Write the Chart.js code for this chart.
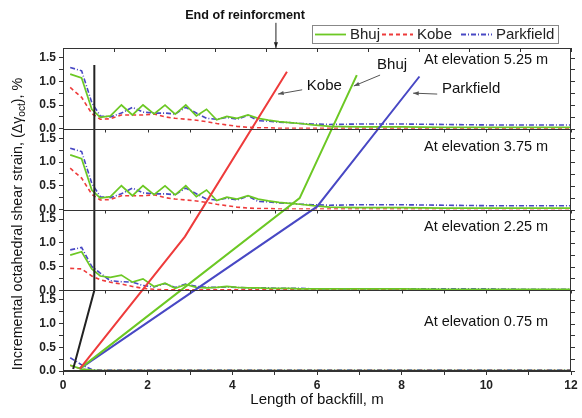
<!DOCTYPE html>
<html lang="en">
<head>
<meta charset="UTF-8">
<title>Incremental octahedral shear strain along the backfill</title>
<script src="https://cdn.jsdelivr.net/npm/chart.js@4.4.0/dist/chart.umd.min.js"></script>
<style>
  html, body { margin: 0; padding: 0; background: #fff; }
</style>
</head>
<body>
<canvas id="graphique" width="582" height="418"></canvas>
<script>
// distances along the backfill (m) where the strain was sampled
const distances = [0.17, 0.44, 0.68, 0.88, 1.12, 1.38, 1.64, 1.89, 2.15, 2.41, 2.65, 2.9, 3.15, 3.39, 3.63, 3.87, 4.11, 4.37, 4.61, 4.85, 5.1, 5.35, 5.6, 5.9, 6.3, 7, 8, 9, 10, 11, 12];

// elevation 5.25 m
const bhuj525 = [1.15, 1.07, 0.41, 0.24, 0.27, 0.50, 0.29, 0.50, 0.31, 0.50, 0.31, 0.50, 0.27, 0.41, 0.19, 0.26, 0.22, 0.29, 0.22, 0.18, 0.15, 0.13, 0.11, 0.08, 0.05, 0.04, 0.04, 0.03, 0.03, 0.03, 0.03];
const kobe525 = [0.87, 0.66, 0.32, 0.20, 0.21, 0.29, 0.29, 0.29, 0.31, 0.25, 0.22, 0.20, 0.18, 0.15, 0.11, 0.08, 0.05, 0.03, 0.02, 0.02, 0.01, 0.01, 0.01, 0.01, 0.01, 0.01, 0.01, 0.01, 0.01, 0.01, 0.01];
const park525 = [1.29, 1.22, 0.55, 0.27, 0.25, 0.33, 0.45, 0.35, 0.33, 0.33, 0.31, 0.45, 0.33, 0.22, 0.20, 0.24, 0.20, 0.28, 0.17, 0.16, 0.14, 0.13, 0.11, 0.10, 0.09, 0.10, 0.10, 0.09, 0.08, 0.08, 0.08];

// elevation 3.75 m
const bhuj375 = [1.15, 1.07, 0.41, 0.24, 0.27, 0.50, 0.29, 0.50, 0.31, 0.50, 0.31, 0.50, 0.27, 0.41, 0.19, 0.26, 0.22, 0.29, 0.22, 0.18, 0.15, 0.13, 0.11, 0.08, 0.05, 0.04, 0.04, 0.03, 0.03, 0.03, 0.03];
const kobe375 = [0.87, 0.66, 0.32, 0.20, 0.21, 0.29, 0.29, 0.29, 0.31, 0.25, 0.22, 0.20, 0.18, 0.15, 0.11, 0.08, 0.05, 0.03, 0.02, 0.02, 0.01, 0.01, 0.01, 0.01, 0.01, 0.01, 0.01, 0.01, 0.01, 0.01, 0.01];
const park375 = [1.29, 1.22, 0.55, 0.27, 0.25, 0.33, 0.45, 0.35, 0.33, 0.33, 0.31, 0.45, 0.33, 0.22, 0.20, 0.24, 0.20, 0.28, 0.17, 0.16, 0.14, 0.13, 0.11, 0.10, 0.09, 0.10, 0.10, 0.09, 0.08, 0.08, 0.08];

// elevation 2.25 m
const bhuj225 = [0.74, 0.81, 0.45, 0.30, 0.27, 0.32, 0.17, 0.24, 0.08, 0.15, 0.04, 0.12, 0.06, 0.05, 0.06, 0.08, 0.06, 0.05, 0.05, 0.04, 0.04, 0.04, 0.03, 0.03, 0.03, 0.03, 0.03, 0.02, 0.02, 0.02, 0.02];
const kobe225 = [0.46, 0.45, 0.30, 0.22, 0.17, 0.13, 0.08, 0.04, 0.02, 0.01, 0.01, 0.01, 0.01, 0.01, 0.01, 0.01, 0.01, 0.01, 0.01, 0.01, 0.01, 0.01, 0.01, 0.01, 0.01, 0.01, 0.01, 0.01, 0.01, 0.01, 0.01];
const park225 = [0.85, 0.90, 0.50, 0.36, 0.20, 0.18, 0.17, 0.10, 0.07, 0.14, 0.06, 0.13, 0.08, 0.06, 0.06, 0.07, 0.06, 0.05, 0.05, 0.05, 0.04, 0.04, 0.04, 0.03, 0.03, 0.03, 0.03, 0.03, 0.03, 0.02, 0.02];

// elevation 0.75 m
const bhuj075 = [0.12, 0.04, 0.02, 0.01, 0.01, 0.01, 0.01, 0.01, 0.01, 0.01, 0.01, 0.01, 0.01, 0.01, 0.01, 0.01, 0.01, 0.01, 0.01, 0.01, 0.01, 0.01, 0.01, 0.01, 0.01, 0.01, 0.01, 0.01, 0.01, 0.01, 0.01];
const kobe075 = [0.12, 0.04, 0.01, 0.01, 0.01, 0.01, 0.01, 0.01, 0.01, 0.01, 0.01, 0.01, 0.01, 0.01, 0.01, 0.01, 0.01, 0.01, 0.01, 0.01, 0.01, 0.01, 0.01, 0.01, 0.01, 0.01, 0.01, 0.01, 0.01, 0.01, 0.01];
const park075 = [0.28, 0.13, 0.03, 0.02, 0.02, 0.02, 0.02, 0.02, 0.02, 0.02, 0.02, 0.02, 0.02, 0.02, 0.02, 0.02, 0.02, 0.02, 0.02, 0.02, 0.02, 0.02, 0.02, 0.02, 0.02, 0.02, 0.02, 0.02, 0.02, 0.02, 0.02];

// trend lines drawn across the four panels (y in stacked-panel units, 1.7 per panel)
const kobeTrendX = [0.4, 2.88, 5.29];
const kobeTrendY = [0.05, 2.83, 6.30];
const bhujTrendX = [0.4, 5.59, 6.94];
const bhujTrendY = [0.05, 3.64, 6.23];
const parkTrendX = [0.4, 6.0, 8.42];
const parkTrendY = [0.05, 3.46, 6.20];
const reinfX = [0.24, 0.74, 0.74];
const reinfY = [0.04, 1.70, 6.44];

// ticks
const xTickValues = [0, 1, 2, 3, 4, 5, 6, 7, 8, 9, 10, 11, 12];
const yTickValues = [0, 0.25, 0.5, 0.75, 1.0, 1.25, 1.5];
const topTickValues = [0, 1.2, 2.4, 3.6, 4.8, 6.0, 7.2, 8.4, 9.6, 10.8, 12];

const panels = [
    { id: 'y525', label: 'At elevation 5.25 m', labelY: 1.45, bhuj: bhuj525, kobe: kobe525, park: park525 },
    { id: 'y375', label: 'At elevation 3.75 m', labelY: 1.31, bhuj: bhuj375, kobe: kobe375, park: park375 },
    { id: 'y225', label: 'At elevation 2.25 m', labelY: 1.33, bhuj: bhuj225, kobe: kobe225, park: park225 },
    { id: 'y075', label: 'At elevation 0.75 m', labelY: 1.04, bhuj: bhuj075, kobe: kobe075, park: park075 }
];

const GREEN = '#6cc824';
const RED = '#ee3b3b';
const BLUE = '#4848c4';
const PANEL_MAX = 1.7;

function pts(xs, ys) {
    return xs.map((x, i) => ({ x: x, y: ys[i] }));
}

const datasets = [];
panels.forEach(p => {
    datasets.push({ label: 'Bhuj', data: pts(distances, p.bhuj), yAxisID: p.id, borderColor: GREEN, borderWidth: 1.7, order: 1 });
    datasets.push({ label: 'Kobe', data: pts(distances, p.kobe), yAxisID: p.id, borderColor: RED, borderWidth: 1.6, borderDash: [4, 3], order: 1 });
    datasets.push({ label: 'Parkfield', data: pts(distances, p.park), yAxisID: p.id, borderColor: BLUE, borderWidth: 1.6, borderDash: [5, 2, 1, 2], order: 1 });
});
datasets.push({ label: 'Kobe trend', data: pts(kobeTrendX, kobeTrendY), yAxisID: 'yAll', borderColor: RED, borderWidth: 2, order: 0 });
datasets.push({ label: 'Bhuj trend', data: pts(bhujTrendX, bhujTrendY), yAxisID: 'yAll', borderColor: GREEN, borderWidth: 2, order: 0 });
datasets.push({ label: 'Parkfield trend', data: pts(parkTrendX, parkTrendY), yAxisID: 'yAll', borderColor: BLUE, borderWidth: 2, order: 0 });
datasets.push({ label: 'Reinforcement', data: pts(reinfX, reinfY), yAxisID: 'yAll', borderColor: '#222', borderWidth: 2, order: 0 });

const FONT = '"Liberation Sans", Arial, sans-serif';

function panelAxis() {
    return {
        type: 'linear', position: 'left', stack: 'panels', stackWeight: 1,
        min: 0, max: PANEL_MAX,
        afterBuildTicks: s => { s.ticks = yTickValues.map(v => ({ value: v })); },
        afterFit: s => { s.width = 63; },
        ticks: {
            autoSkip: false, padding: 3, color: '#222',
            font: { family: FONT, size: 12, weight: 'bold' },
            callback: v => (Math.abs(v * 2 - Math.round(v * 2)) < 1e-6 ? v.toFixed(1) : '')
        },
        grid: { drawOnChartArea: false, tickLength: 4, color: '#333' },
        border: { color: '#333', width: 1 }
    };
}

const scales = {
    x: {
        type: 'linear', position: 'bottom', min: 0, max: 12,
        afterBuildTicks: s => { s.ticks = xTickValues.map(v => ({ value: v })); },
        afterFit: s => { s.height = 47; },
        ticks: {
            autoSkip: false, maxRotation: 0, padding: 3, color: '#222',
            font: { family: FONT, size: 12, weight: 'bold' },
            callback: v => (v % 2 === 0 ? String(v) : '')
        },
        grid: { drawOnChartArea: false, tickLength: 4, color: '#333' },
        border: { color: '#333', width: 1 }
    },
    yAll: { type: 'linear', display: false, min: 0, max: PANEL_MAX * 4 }
};
// bottom panel first: later stacked axes are placed higher up
[...panels].reverse().forEach(p => { scales[p.id] = panelAxis(); });

function arrow(ctx, x1, y1, x2, y2) {
    ctx.beginPath();
    ctx.moveTo(x1, y1);
    ctx.lineTo(x2, y2);
    ctx.stroke();
    const a = Math.atan2(y2 - y1, x2 - x1);
    ctx.beginPath();
    ctx.moveTo(x2, y2);
    ctx.lineTo(x2 - 6 * Math.cos(a - 0.35), y2 - 6 * Math.sin(a - 0.35));
    ctx.lineTo(x2 - 6 * Math.cos(a + 0.35), y2 - 6 * Math.sin(a + 0.35));
    ctx.closePath();
    ctx.fill();
}

const decorations = {
    id: 'decorations',
    afterDatasetsDraw(chart) {
        const ctx = chart.ctx;
        const area = chart.chartArea;
        const xs = chart.scales.x;
        const g = chart.scales.yAll;
        const X = v => xs.getPixelForValue(v);
        const G = v => g.getPixelForValue(v);
        ctx.save();

        // frame, panel separators, extra ticks
        ctx.strokeStyle = '#333';
        ctx.lineWidth = 1;
        ctx.strokeRect(area.left + 0.5, area.top + 0.5, area.width - 1, area.height - 1);
        panels.forEach((p, i) => {
            const s = chart.scales[p.id];
            ctx.beginPath();
            yTickValues.forEach(v => {
                const y = Math.round(s.getPixelForValue(v)) + 0.5;
                ctx.moveTo(area.right, y);
                ctx.lineTo(area.right + 4, y);
            });
            if (i < panels.length - 1) {
                const yb = Math.round(s.bottom) + 0.5;
                ctx.moveTo(area.left, yb);
                ctx.lineTo(area.right, yb);
                xTickValues.forEach(v => {
                    ctx.moveTo(Math.round(X(v)) + 0.5, yb);
                    ctx.lineTo(Math.round(X(v)) + 0.5, yb + 3);
                });
            }
            ctx.stroke();
        });
        ctx.beginPath();
        topTickValues.forEach(v => {
            ctx.moveTo(Math.round(X(v)) + 0.5, area.top);
            ctx.lineTo(Math.round(X(v)) + 0.5, area.top + 4);
        });
        ctx.stroke();

        // elevation labels
        ctx.fillStyle = '#111';
        ctx.font = '14.5px ' + FONT;
        ctx.textAlign = 'right';
        ctx.textBaseline = 'middle';
        panels.forEach(p => {
            ctx.fillText(p.label, X(11.46), chart.scales[p.id].getPixelForValue(p.labelY));
        });

        // trend labels with arrows
        ctx.font = '15px ' + FONT;
        ctx.textAlign = 'left';
        ctx.fillText('Kobe', X(5.76), G(6.0));
        ctx.fillText('Bhuj', X(7.42), G(6.44));
        ctx.fillText('Parkfield', X(8.95), G(5.94));
        ctx.strokeStyle = '#555';
        ctx.fillStyle = '#555';
        ctx.lineWidth = 1;
        arrow(ctx, X(5.65), G(5.92), X(5.08), G(5.83));
        arrow(ctx, X(7.49), G(6.23), X(6.87), G(6.0));
        arrow(ctx, X(8.84), G(5.83), X(8.27), G(5.85));

        // end of reinforcement
        ctx.fillStyle = '#111';
        ctx.font = 'bold 12.6px ' + FONT;
        ctx.textAlign = 'center';
        ctx.fillText('End of reinforcment', X(4.3), G(7.49));
        ctx.strokeStyle = '#222';
        ctx.fillStyle = '#222';
        arrow(ctx, X(5.03), G(7.33), X(5.03), G(6.8));

        // legend
        const lx = 312, ly = 25, lw = 246, lh = 18;
        ctx.fillStyle = '#fff';
        ctx.fillRect(lx, ly, lw, lh);
        ctx.strokeStyle = '#888';
        ctx.strokeRect(lx + 0.5, ly + 0.5, lw, lh);
        const items = [
            { text: 'Bhuj', color: GREEN, dash: [], x: 315 },
            { text: 'Kobe', color: RED, dash: [4, 3], x: 382 },
            { text: 'Parkfield', color: BLUE, dash: [5, 2, 1, 2], x: 461 }
        ];
        ctx.font = '15px ' + FONT;
        ctx.textAlign = 'left';
        items.forEach(it => {
            ctx.strokeStyle = it.color;
            ctx.lineWidth = 1.8;
            ctx.setLineDash(it.dash);
            ctx.beginPath();
            ctx.moveTo(it.x, ly + 9.5);
            ctx.lineTo(it.x + 31, ly + 9.5);
            ctx.stroke();
            ctx.setLineDash([]);
            ctx.fillStyle = '#222';
            ctx.fillText(it.text, it.x + 35, ly + 10);
        });

        // axis titles
        ctx.fillStyle = '#111';
        ctx.font = '15px ' + FONT;
        ctx.textAlign = 'center';
        ctx.fillText('Length of backfill, m', (area.left + area.right) / 2, 400);

        ctx.translate(18, 224);
        ctx.rotate(-Math.PI / 2);
        const part1 = 'Incremental octahedral shear strain, (\u0394\u03b3';
        const sub = 'oct';
        const part2 = '), %';
        ctx.font = '14.3px ' + FONT;
        const w1 = ctx.measureText(part1).width;
        const w3 = ctx.measureText(part2).width;
        ctx.font = '10px ' + FONT;
        const w2 = ctx.measureText(sub).width;
        let x0 = -(w1 + w2 + w3) / 2;
        ctx.textAlign = 'left';
        ctx.font = '14.3px ' + FONT;
        ctx.fillText(part1, x0, 0);
        ctx.font = '10px ' + FONT;
        ctx.fillText(sub, x0 + w1, 4);
        ctx.font = '14.3px ' + FONT;
        ctx.fillText(part2, x0 + w1 + w2, 0);
        ctx.restore();
    }
};

new Chart(document.getElementById('graphique').getContext('2d'), {
    type: 'line',
    data: { datasets: datasets },
    options: {
        responsive: false,
        animation: false,
        devicePixelRatio: 1,
        layout: { padding: { left: 0, right: 11, top: 48, bottom: 0 } },
        elements: { point: { radius: 0 }, line: { tension: 0, fill: false } },
        plugins: { legend: { display: false }, tooltip: { enabled: false } },
        scales: scales
    },
    plugins: [decorations]
});
</script>
</body>
</html>
